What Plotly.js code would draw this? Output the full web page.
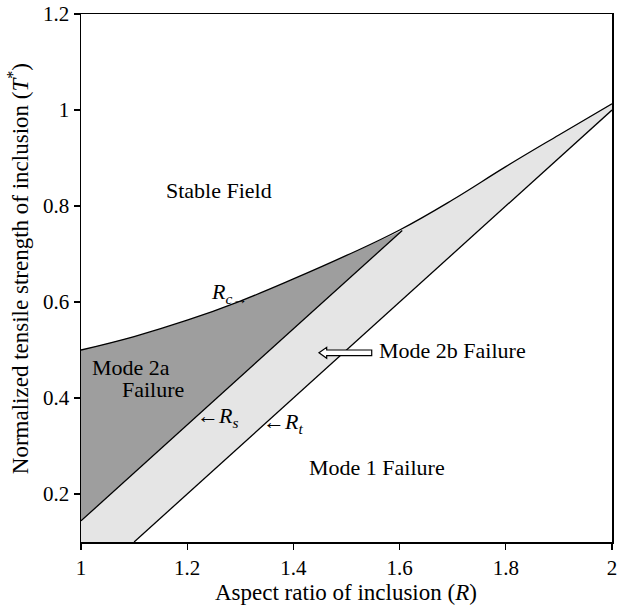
<!DOCTYPE html>
<html>
<head>
<meta charset="utf-8">
<script src="https://cdn.plot.ly/plotly-3.0.1.min.js"></script>
<style>html,body{margin:0;padding:0;background:#fff;}#chart{width:617px;height:609px;}</style>
</head>
<body>
<div id="chart"></div>
<script>
// Critical curve Rc (upper boundary of failure zones)
const rcX = [1, 1.1, 1.2, 1.3, 1.4, 1.5, 1.6, 1.7, 1.8, 1.9, 2];
const rcY = [0.5, 0.528, 0.562, 0.602, 0.648, 0.697, 0.75, 0.813, 0.882, 0.948, 1.013];
// Shear line Rs
const rsX = [1, 1.605];
const rsY = [0.144, 0.749];
// Tension line Rt
const rtX = [1.1, 2];
const rtY = [0.1, 1.0];
// Ticks
const xTicks = [1, 1.2, 1.4, 1.6, 1.8, 2];
const xTickText = ['1', '1.2', '1.4', '1.6', '1.8', '2'];
const yTicks = [0.2, 0.4, 0.6, 0.8, 1, 1.2];
const yTickText = ['0.2', '0.4', '0.6', '0.8', '1', '1.2'];
const xRange = [1, 2];
const yRange = [0.1, 1.2];

const FONT = 'Liberation Serif';

// Lower boundary of the light region: bottom edge then Rt
const lowX = [xRange[0]].concat(rtX);
const lowY = [yRange[0]].concat(rtY);
// Rc clipped at its intersection with Rs
const rcClipX = [], rcClipY = [];
rcX.forEach((x, i) => { if (x < rsX[1] - 0.05) { rcClipX.push(x); rcClipY.push(rcY[i]); } });
rcClipX.push(rsX[1]);
rcClipY.push(rsY[1]);

const SM = 1.2;
const lineStyle = {color: '#000', width: 1.3};
const noLine = {width: 0, color: 'rgba(0,0,0,0)'};
const traces = [
  {x: lowX, y: lowY, mode: 'lines', line: noLine, hoverinfo: 'skip', showlegend: false},
  {x: rcX, y: rcY, mode: 'lines', fill: 'tonexty', fillcolor: '#e5e5e5', line: {width: 0, shape: 'spline', smoothing: SM, color: 'rgba(0,0,0,0)'}, hoverinfo: 'skip', showlegend: false},
  {x: rsX, y: rsY, mode: 'lines', line: noLine, hoverinfo: 'skip', showlegend: false},
  {x: rcClipX, y: rcClipY, mode: 'lines', fill: 'tonexty', fillcolor: '#9e9e9e', line: {width: 0, shape: 'spline', smoothing: SM, color: 'rgba(0,0,0,0)'}, hoverinfo: 'skip', showlegend: false},
  {x: rcX, y: rcY, mode: 'lines', line: {color: '#000', width: 1.3, shape: 'spline', smoothing: SM}, showlegend: false},
  {x: rsX, y: rsY, mode: 'lines', line: lineStyle, showlegend: false},
  {x: rtX, y: rtY, mode: 'lines', line: lineStyle, showlegend: false}
];

const tf = {family: FONT, size: 22, color: '#000'};
const tt = {family: FONT, size: 23, color: '#000'};
const annotations = [
  {x: 1.26, y: 0.833, text: 'Stable Field', showarrow: false, font: tf},
  {x: 1.095, y: 0.4645, height: 21, text: 'Mode 2a', showarrow: false, font: tf},
  {x: 1.135, y: 0.418, height: 21, text: 'Failure', showarrow: false, font: tf},
  {x: 1.279, y: 0.619, text: '<i>R</i><sub><i>c</i>\u2192</sub>', showarrow: false, font: tf},
  {x: 1.257, y: 0.36, text: '\u2190<i>R<sub>s</sub></i>', showarrow: false, font: tf},
  {x: 1.38, y: 0.348, text: '\u2190<i>R<sub>t</sub></i>', showarrow: false, font: tf},
  {x: 1.557, y: 0.498, xanchor: 'left', text: 'Mode 2b Failure', showarrow: false, font: tf},
  {x: 1.557, y: 0.256, text: 'Mode 1 Failure', showarrow: false, font: tf},
  {xref: 'paper', yref: 'paper', x: 0.499, y: -0.0953, yanchor: 'middle', text: 'Aspect ratio of inclusion (<i>R</i>)', showarrow: false, font: tt},
  {xref: 'paper', yref: 'paper', x: -0.1186, y: 0.5168, xanchor: 'center', yanchor: 'middle', textangle: -90, text: 'Normalized tensile strength of inclusion (<i>T</i><sup>*</sup>)', showarrow: false, font: tt}
];

const shapes = [
  {type: 'path', xref: 'x', yref: 'y',
   path: 'M1.4482,0.4944 L1.4627,0.5056 L1.4627,0.5 L1.5475,0.5 L1.5475,0.4881 L1.4627,0.4881 L1.4627,0.4827 Z',
   fillcolor: '#fff', line: {color: '#000', width: 1.2}}
];

const axisCommon = {
  showline: true, mirror: true, linecolor: '#000', linewidth: 1.5,
  ticks: 'outside', ticklen: 6, tickcolor: '#000', tickwidth: 1.3,
  showgrid: false, zeroline: false, tickmode: 'array', ticklabeloverflow: 'allow',
  tickfont: {family: FONT, size: 21, color: '#000'}
};

const layout = {
  width: 617, height: 609,
  margin: {l: 81, r: 5, t: 14, b: 67},
  paper_bgcolor: '#fff', plot_bgcolor: '#fff',
  font: {family: FONT},
  xaxis: Object.assign({}, axisCommon, {range: xRange, tickvals: xTicks, ticktext: xTickText}),
  yaxis: Object.assign({}, axisCommon, {range: yRange, tickvals: yTicks, ticktext: yTickText}),
  annotations: annotations,
  shapes: shapes,
  showlegend: false
};

Plotly.newPlot('chart', traces, layout, {staticPlot: true});
</script>
</body>
</html>
